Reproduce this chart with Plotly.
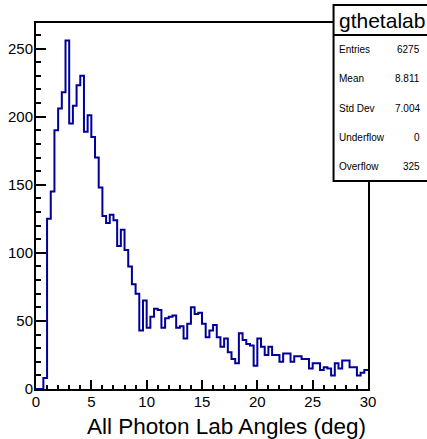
import numpy as np
import plotly.graph_objects as go

# ---- data -------------------------------------------------------------
bin_low, bin_high, n_bins = 0.0, 30.0, 90
counts = [
    0, 0, 8, 125, 145, 190, 206, 218, 256, 195,
    208, 223, 230, 189, 201, 185, 170, 148, 127, 122,
    128, 124, 105, 117, 102, 90, 77, 70, 43, 65,
    45, 53, 59, 58, 45, 52, 53, 54, 45, 46,
    37, 48, 60, 55, 56, 48, 38, 43, 47, 38,
    31, 37, 27, 22, 19, 41, 36, 33, 32, 17,
    37, 31, 25, 31, 25, 25, 20, 26, 26, 20,
    24, 24, 22, 22, 15, 19, 19, 14, 16, 15,
    10, 19, 15, 21, 21, 16, 16, 10, 12, 14,
]
hist_name = "gthetalab"
stats_labels = ["Entries", "Mean", "Std Dev", "Underflow", "Overflow"]
stats_values = ["6275", "8.811", "7.004", "0", "325"]
x_title = "All Photon Lab Angles (deg)"
x_ticks = [0, 5, 10, 15, 20, 25, 30]
y_ticks = [0, 50, 100, 150, 200, 250]

edges = np.linspace(bin_low, bin_high, n_bins + 1)

# ---- geometry (pixels) ------------------------------------------------
W, H = 427, 439
L, R, T, B = 36, 368.5, 23, 389


def px(x):
    return (x - L) / (R - L)


def py(y):
    return (B - y) / (B - T)


FONT = "Liberation Sans, Arial, Helvetica, sans-serif"

fig = go.Figure()
fig.add_trace(go.Scatter(
    x=edges, y=list(counts) + [counts[-1]], mode="lines",
    line=dict(color="#000099", width=2, shape="hv"),
    hoverinfo="skip", showlegend=False,
))

ymax = max(counts) * 1.05

fig.update_layout(
    template="none",
    width=W, height=H,
    margin=dict(l=L, r=W - R, t=T, b=H - B, pad=0, autoexpand=False),
    paper_bgcolor="white", plot_bgcolor="white",
    font=dict(family=FONT, color="black"),
    showlegend=False,
    xaxis=dict(
        range=[bin_low, bin_high], tickvals=x_ticks, ticktext=[str(v) for v in x_ticks],
        ticks="inside", ticklen=9, tickwidth=2, tickcolor="black",
        minor=dict(dtick=1, ticks="inside", ticklen=4.5, tickwidth=2, tickcolor="black"),
        showline=True, linewidth=2, linecolor="black", mirror=True,
        showgrid=False, zeroline=False, tickfont=dict(size=15, family=FONT),
        ticklabelstandoff=-2, fixedrange=True, automargin=False,
    ),
    yaxis=dict(
        range=[0, ymax], tickvals=y_ticks, ticktext=[str(v) for v in y_ticks],
        ticks="inside", ticklen=10, tickwidth=2, tickcolor="black",
        minor=dict(dtick=10, ticks="inside", ticklen=5, tickwidth=2, tickcolor="black"),
        showline=True, linewidth=2, linecolor="black", mirror=True,
        showgrid=False, zeroline=False, tickfont=dict(size=15, family=FONT),
        ticklabelstandoff=-2, fixedrange=True, automargin=False,
    ),
)

# stats box
bx0, bx1, by0, by1, bsep = 334, 432, 5, 181, 35
fig.add_shape(type="rect", xref="paper", yref="paper",
              x0=px(bx0), x1=px(bx1), y0=py(by1), y1=py(by0),
              fillcolor="white", line=dict(color="black", width=2), layer="above")
fig.add_shape(type="line", xref="paper", yref="paper",
              x0=px(bx0), x1=px(bx1), y0=py(bsep), y1=py(bsep),
              line=dict(color="black", width=2), layer="above")

annotations = [
    dict(text=hist_name, x=px(337), y=py(21), xref="paper", yref="paper",
         xanchor="left", yanchor="middle", showarrow=False,
         font=dict(size=21, family=FONT, color="black")),
    dict(text=x_title, x=1.0, y=py(426.5), xref="paper", yref="paper",
         xanchor="right", yanchor="middle", showarrow=False,
         font=dict(size=22.5, family=FONT, color="black")),
]
row_h = (by1 - bsep) / len(stats_labels)
for i, (lab, val) in enumerate(zip(stats_labels, stats_values)):
    yc = bsep + row_h * (i + 0.5)
    annotations.append(dict(text=lab, x=px(337), y=py(yc), xref="paper", yref="paper",
                            xanchor="left", yanchor="middle", showarrow=False,
                            font=dict(size=10, family=FONT, color="black")))
    annotations.append(dict(text=val, x=px(423), y=py(yc), xref="paper", yref="paper",
                            xanchor="right", yanchor="middle", showarrow=False,
                            font=dict(size=10, family=FONT, color="black")))
fig.update_layout(annotations=annotations)

fig.write_html(
    "out.html",
    config={"displayModeBar": False, "staticPlot": True},
    post_script="document.body.style.margin='0';document.body.style.overflow='hidden';",
)
